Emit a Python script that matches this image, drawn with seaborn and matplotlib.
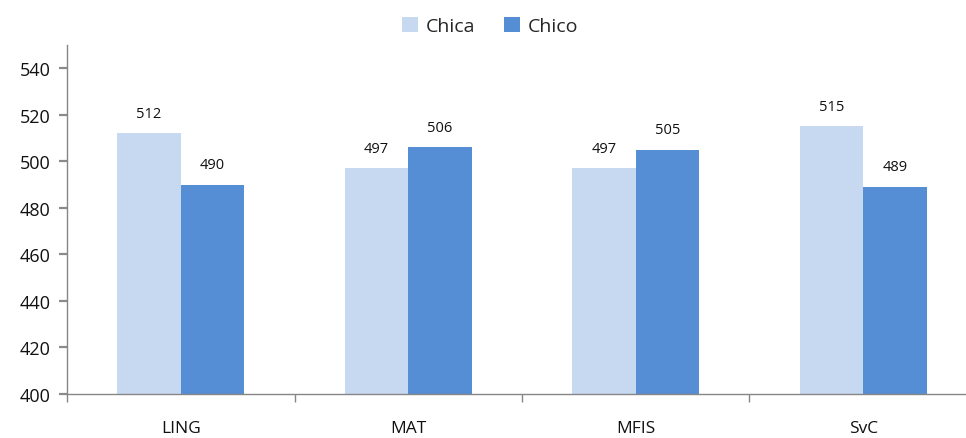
import pandas as pd
import matplotlib.pyplot as plt
import seaborn as sns

# Datos
asignaturas = ["LING", "MAT", "MFIS", "SvC"]
chica = [512, 497, 497, 515]
chico = [490, 506, 505, 489]
grupos = ["Chica", "Chico"]
colores = ["#C6D9F1", "#558ED5"]

df = pd.DataFrame({
    "Asignatura": asignaturas * 2,
    "Sexo": ["Chica"] * len(chica) + ["Chico"] * len(chico),
    "Puntos": chica + chico,
})

sns.set_style("white", {"ytick.left": True, "xtick.bottom": True})
plt.rcParams["font.family"] = ["Open Sans", "DejaVu Sans"]

fig = plt.figure(figsize=(9.66, 4.39), dpi=100)
ax = fig.add_axes([67 / 966, 44 / 439, 910 / 966, 349 / 439])

sns.barplot(data=df, x="Asignatura", y="Puntos", hue="Sexo", hue_order=grupos,
            palette=colores, width=0.56, saturation=1, linewidth=0,
            ax=ax, legend=True)

# etiquetas de valor sobre las barras
for cont in ax.containers:
    ax.bar_label(cont, fmt="%d", padding=9, fontsize=10.5, color="#111111")

ax.set_ylim(400, 550)
ax.set_yticks(range(400, 541, 20))
ax.set_xlim(-0.5, 3.5)
ax.set_xlabel("")
ax.set_ylabel("")

# ticks en los limites de las categorias
ax.set_xticks([-0.5, 0.5, 1.5, 2.5, 3.5], minor=True)
ax.tick_params(axis="x", which="major", bottom=False, length=0, pad=19,
               labelsize=12.5, labelcolor="#111111")
ax.tick_params(axis="x", which="minor", bottom=True, length=6, width=1,
               color="#868686", direction="out")
ax.tick_params(axis="y", which="major", left=True, length=6, width=1.6,
               color="#8a8a8a", direction="out", labelsize=13,
               labelcolor="#111111", pad=6)

for s in ["top", "right"]:
    ax.spines[s].set_visible(False)
for s in ["left", "bottom"]:
    ax.spines[s].set_color("#868686")
    ax.spines[s].set_linewidth(1)

ax.legend(title=None, loc="center", bbox_to_anchor=(490 / 966, 1 - 27 / 439),
          bbox_transform=fig.transFigure, ncol=2, frameon=False, fontsize=14,
          handlelength=0.8, handleheight=0.8, columnspacing=1.5, handletextpad=0.4)

fig.savefig("out.png", dpi=100)
